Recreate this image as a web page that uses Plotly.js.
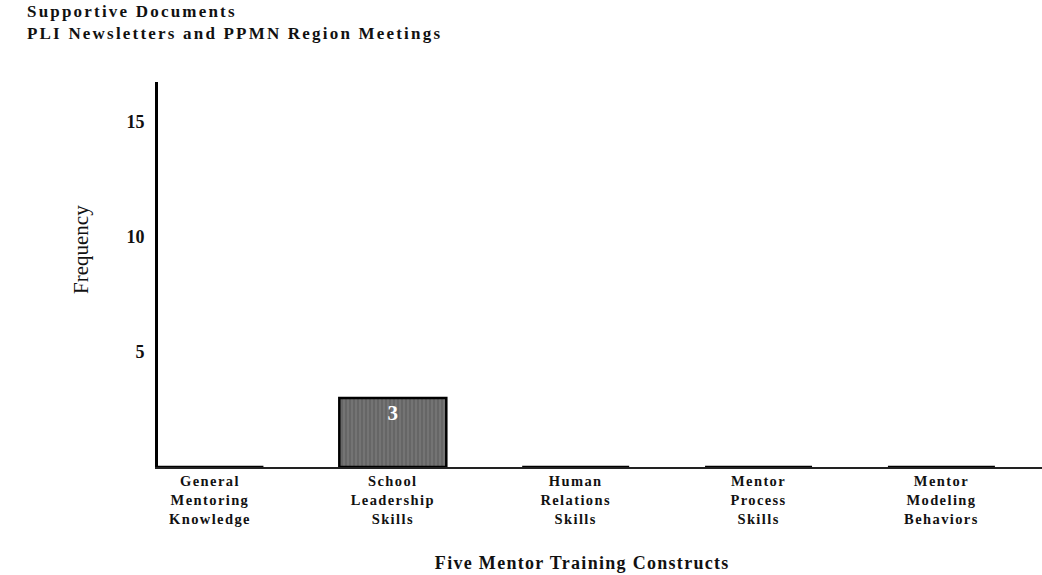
<!DOCTYPE html>
<html>
<head>
<meta charset="utf-8">
<script src="https://cdn.plot.ly/plotly-3.0.1.min.js"></script>
<style>
html,body{margin:0;padding:0;background:#fff;}
#chart{width:1042px;height:575px;}
#chart .xtick text{letter-spacing:1.4px;}
#chart .annotation.spaced text{letter-spacing:1.3px;}
#chart .annotation.maintitle text{letter-spacing:2.2px;}
</style>
</head>
<body>
<div id="chart"></div>
<script>
const categories = [
  "General<br>Mentoring<br>Knowledge",
  "School<br>Leadership<br>Skills",
  "Human<br>Relations<br>Skills",
  "Mentor<br>Process<br>Skills",
  "Mentor<br>Modeling<br>Behaviors"
];
const frequency = [0, 3, 0, 0, 0];
const yTicks = [5, 10, 15];
const titleLines = ["Supportive Documents", "PLI Newsletters and PPMN Region Meetings"];
const xAxisTitle = "Five Mentor Training Constructs";
const yAxisTitle = "Frequency";

const positions = categories.map((c, i) => i);
const barLabels = frequency.map(v => v > 0 ? String(v) : "");

const serif = "Liberation Serif, Times New Roman, serif";
const plotW = 1042 - 158;
const plotH = 575 - 82 - 108;

const trace = {
  type: "bar",
  x: positions,
  y: frequency,
  width: 0.585,
  text: barLabels,
  textposition: "inside",
  insidetextanchor: "end",
  constraintext: "none",
  textfont: {family: serif, size: 21, color: "#ffffff", weight: "bold"},
  marker: {
    color: "#6b6b6b",
    line: {color: "#000000", width: 2.5},
    pattern: {shape: "|", fgcolor: "#a0a0a0", bgcolor: "#666666", size: 4, solidity: 0.25, fillmode: "overlay"}
  },
  hoverinfo: "none"
};

const layout = {
  width: 1042,
  height: 575,
  margin: {l: 158, r: 0, t: 82, b: 108, pad: 0},
  paper_bgcolor: "#ffffff",
  plot_bgcolor: "#ffffff",
  showlegend: false,
  font: {family: serif, color: "#111111"},
  xaxis: {
    range: [-0.284, 4.55],
    tickvals: positions,
    ticktext: categories,
    ticks: "",
    showgrid: false,
    zeroline: false,
    showline: true,
    linecolor: "#222222",
    linewidth: 2,
    tickfont: {family: serif, size: 14.5, color: "#111111", weight: "bold"},
    fixedrange: true
  },
  yaxis: {
    range: [0, 16.74],
    tickvals: yTicks,
    ticktext: yTicks.map(String),
    ticks: "",
    ticklabelstandoff: 7,
    showgrid: false,
    zeroline: false,
    showline: true,
    linecolor: "#000000",
    linewidth: 3,
    tickfont: {family: serif, size: 18, color: "#111111", weight: "bold"},
    fixedrange: true
  },
  annotations: [{
    xref: "paper", yref: "paper",
    x: (25 - 158) / plotW, y: 1 + (82 - 0) / plotH,
    xanchor: "left", yanchor: "top",
    align: "left",
    showarrow: false,
    text: titleLines.map(t => "<b>" + t + "</b>").join("<br>"),
    font: {family: serif, size: 17, color: "#111111"}
  }, {
    xref: "paper", yref: "paper",
    x: (81 - 158) / plotW, y: (467 - 250) / plotH,
    xanchor: "center", yanchor: "middle",
    textangle: -90,
    showarrow: false,
    text: yAxisTitle,
    font: {family: serif, size: 21, color: "#111111"}
  }, {
    xref: "paper", yref: "paper",
    x: (582 - 158) / plotW, y: -(563 - 467) / plotH,
    xanchor: "center", yanchor: "middle",
    showarrow: false,
    text: "<b>" + xAxisTitle + "</b>",
    font: {family: serif, size: 18, color: "#111111"}
  }]
};

Plotly.newPlot("chart", [trace], layout, {staticPlot: true, displayModeBar: false}).then(() => {
  const anns = document.querySelectorAll("#chart .annotation");
  if (anns[0]) anns[0].classList.add("maintitle");
  if (anns[2]) anns[2].classList.add("spaced");
});
</script>
</body>
</html>
